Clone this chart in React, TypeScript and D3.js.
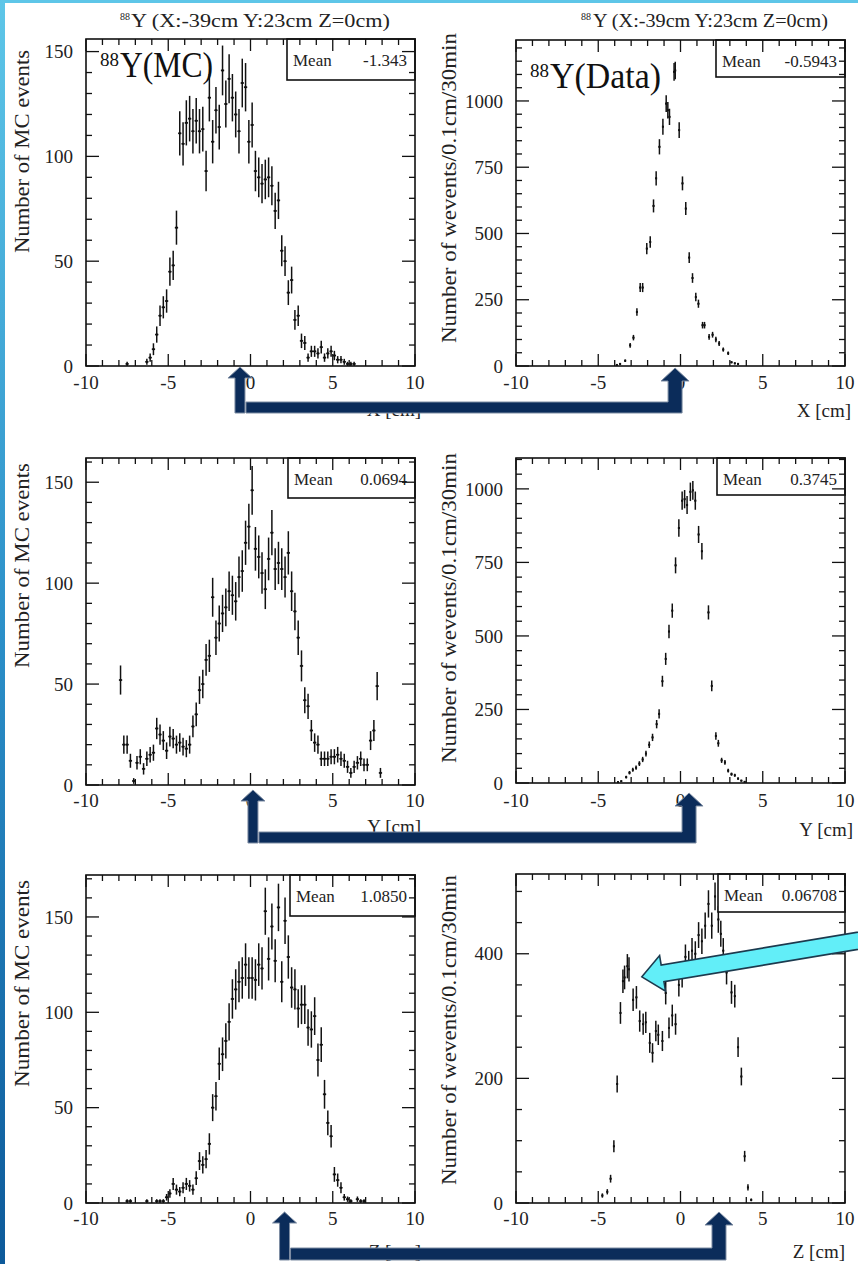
import { useEffect, useRef } from "react";
import * as d3 from "d3";

// MC histograms, 0.2 cm bins (first bin centre given)
const mcXStart = -7.5;
const mcXCounts = [1, 0, 0, 0, 0, 0, 2, 4, 8, 15, 24, 28, 31, 45, 48, 66, 111, 106, 116, 118, 112, 117, 112, 113, 93, 128, 107, 122, 114, 141, 125, 137, 128, 120, 112, 135, 133, 107, 115, 93, 90, 87, 89, 90, 86, 74, 79, 55, 50, 35, 41, 22, 24, 12, 11, 4, 7, 7, 6, 9, 4, 6, 7, 5, 3, 3, 2, 1, 1, 1];
const mcYStart = -7.9;
const mcYCounts = [52, 20, 20, 12, 2, 11, 14, 8, 13, 15, 16, 28, 25, 22, 17, 24, 23, 20, 21, 19, 18, 20, 29, 35, 47, 50, 62, 64, 93, 73, 80, 85, 88, 96, 94, 91, 103, 106, 120, 128, 146, 117, 113, 105, 97, 112, 125, 107, 110, 107, 103, 115, 96, 86, 73, 59, 42, 39, 27, 21, 20, 13, 13, 13, 14, 14, 15, 13, 12, 9, 6, 9, 11, 13, 10, 10, 22, 27, 49, 6];
const mcZStart = -7.5;
const mcZCounts = [1, 1, 0, 0, 0, 0, 1, 0, 0, 1, 1, 1, 3, 5, 10, 7, 6, 8, 10, 9, 7, 13, 22, 20, 23, 31, 50, 56, 73, 78, 85, 95, 107, 112, 116, 118, 125, 118, 118, 117, 125, 123, 153, 128, 145, 127, 155, 116, 148, 129, 113, 112, 102, 104, 104, 92, 91, 98, 75, 83, 57, 42, 35, 15, 12, 8, 3, 2, 1, 0, 2, 1, 1, 0];

// measured data (weighted events), [position cm, count]
const dataX: [number, number][] = [[-3.87, 4], [-3.67, 8], [-3.36, 20], [-3.06, 78], [-2.86, 107], [-2.65, 204], [-2.45, 296], [-2.3, 296], [-2.05, 443], [-1.84, 468], [-1.64, 604], [-1.48, 708], [-1.28, 827], [-1.07, 903], [-0.87, 990], [-0.77, 965], [-0.67, 940], [-0.39, 1110], [-0.32, 1115], [-0.08, 890], [0.12, 689], [0.32, 594], [0.53, 409], [0.73, 332], [0.93, 260], [1.09, 235], [1.34, 154], [1.46, 154], [1.74, 110], [1.95, 118], [2.15, 100], [2.35, 85], [2.6, 62], [2.9, 48], [3.1, 14], [3.3, 10], [3.5, 8]];
const dataY: [number, number][] = [[-3.8, 3], [-3.6, 6], [-3.3, 20], [-3.1, 35], [-2.9, 45], [-2.7, 52], [-2.5, 66], [-2.3, 80], [-2.1, 100], [-1.9, 130], [-1.7, 155], [-1.45, 200], [-1.3, 235], [-1.1, 346], [-0.9, 422], [-0.7, 515], [-0.5, 586], [-0.3, 740], [-0.1, 867], [0.1, 960], [0.25, 965], [0.4, 945], [0.6, 990], [0.75, 995], [0.9, 960], [1.1, 845], [1.3, 788], [1.7, 580], [1.9, 330], [2.15, 160], [2.3, 135], [2.5, 77], [2.7, 70], [2.9, 42], [3.1, 30], [3.3, 26], [3.5, 15], [3.7, 8], [3.9, 4]];
const dataZ: [number, number][] = [[-4.75, 12], [-4.45, 18], [-4.25, 39], [-4.05, 91], [-3.85, 191], [-3.65, 305], [-3.5, 356], [-3.4, 362], [-3.23, 380], [-3.13, 375], [-2.88, 326], [-2.68, 330], [-2.48, 292], [-2.27, 287], [-2.11, 290], [-1.87, 257], [-1.7, 241], [-1.5, 276], [-1.35, 270], [-1.1, 260], [-0.9, 337], [-0.7, 281], [-0.5, 301], [-0.3, 287], [-0.1, 350], [0.1, 365], [0.3, 395], [0.5, 385], [0.7, 405], [0.9, 400], [1.1, 430], [1.3, 420], [1.5, 445], [1.7, 480], [1.9, 445], [2.1, 492], [2.3, 455], [2.45, 432], [2.6, 405], [2.8, 370], [3.1, 338], [3.3, 332], [3.5, 250], [3.7, 203], [3.9, 75], [4.1, 25], [4.3, 5]];

const meanValues = ["-1.343", "-0.5943", "0.0694", "0.3745", "1.0850", "0.06708"];
const xTickValues = [-10, -5, 0, 5, 10];
const titleText = "Y (X:-39cm Y:23cm Z=0cm)";
const mcTitle = "Number of MC events";
const dataTitle = "Number of wevents/0.1cm/30min";
const axisNames = ["X [cm]", "Y [cm]", "Z [cm]"];
// arrow anchor positions (cm) in the MC / data panel of each row
const arrowAnchors = [[-0.64, -0.33], [0.15, 0.52], [2.07, 2.34]];
const cyanTip = [-2.35, 363];

const FONT = "'Liberation Serif', 'Times New Roman', serif";

const toBins = (start: number, counts: number[]): [number, number][] =>
  counts.map((c, i) => [start + 0.2 * i, c]);

const panels = [
  { f: [86, 39, 415, 366], yMax: 156, major: 50, minor: 10, pts: toBins(mcXStart, mcXCounts), bw: 0.2, yt: mcTitle, ytp: [29, 50, 203], xt: axisNames[0], xtp: [421, 416], lab: 389, box: [287, 39, 415, 80] },
  { f: [516, 40, 845, 366], yMax: 1230, major: 250, minor: 50, pts: dataX, bw: 0.1, yt: dataTitle, ytp: [456, 33, 310], xt: axisNames[0], xtp: [851, 417], lab: 389, box: [716, 40, 845, 77] },
  { f: [86, 458, 415, 785], yMax: 162, major: 50, minor: 10, pts: toBins(mcYStart, mcYCounts), bw: 0.2, yt: mcTitle, ytp: [29, 463, 205], xt: axisNames[1], xtp: [421, 833], lab: 807, box: [288, 458, 415, 498] },
  { f: [516, 458, 845, 783], yMax: 1105, major: 250, minor: 50, pts: dataY, bw: 0.1, yt: dataTitle, ytp: [456, 453, 310], xt: axisNames[1], xtp: [853, 836], lab: 807, box: [717, 458, 845, 495] },
  { f: [86, 875, 415, 1203], yMax: 172, major: 50, minor: 10, pts: toBins(mcZStart, mcZCounts), bw: 0.2, yt: mcTitle, ytp: [29, 880, 207], xt: axisNames[2], xtp: [421, 1258], lab: 1225, box: [290, 875, 415, 916] },
  { f: [516, 874, 845, 1203], yMax: 528, major: 200, minor: 50, pts: dataZ, bw: 0.1, yt: dataTitle, ytp: [456, 875, 310], xt: axisNames[2], xtp: [845, 1258], lab: 1225, box: [718, 874, 845, 912] },
];

const arrowRows = [
  { tipL: 367, tipR: 368, barTop: 402, barBot: 413 },
  { tipL: 790, tipR: 793, barTop: 832, barBot: 843 },
  { tipL: 1212, tipR: 1212, barTop: 1248, barBot: 1260 },
];

export default function App() {
  const ref = useRef<SVGSVGElement>(null);

  useEffect(() => {
    document.body.style.margin = "0";
    const svg = d3.select(ref.current);
    svg.selectAll("*").remove();

    const defs = svg.append("defs");
    const grad = defs.append("linearGradient").attr("id", "side").attr("x1", 0).attr("x2", 0).attr("y1", 0).attr("y2", 1);
    grad.append("stop").attr("offset", "0%").attr("stop-color", "#5ec6e8");
    grad.append("stop").attr("offset", "50%").attr("stop-color", "#2b8fc8");
    grad.append("stop").attr("offset", "100%").attr("stop-color", "#0d5a9a");

    svg.append("rect").attr("width", 858).attr("height", 1264).attr("fill", "#fff");
    svg.append("rect").attr("width", 858).attr("height", 3).attr("fill", "#5ec6e8");
    svg.append("rect").attr("width", 5).attr("height", 1264).attr("fill", "url(#side)");

    const scales: { x: d3.ScaleLinear<number, number>; y: d3.ScaleLinear<number, number> }[] = [];

    panels.forEach((p, i) => {
      const [x0, y0, x1, y1] = p.f;
      const x = d3.scaleLinear().domain([-10, 10]).range([x0, x1]);
      const y = d3.scaleLinear().domain([0, p.yMax]).range([y1, y0]);
      scales.push({ x, y });
      const g = svg.append("g");

      // points with error bars
      const pts = g.append("g").attr("stroke", "#111").attr("stroke-width", 1.5);
      p.pts.filter((d) => d[1] > 0).forEach(([cx, v]) => {
        const e = Math.sqrt(v);
        const top = Math.max(y(v + e), y0);
        const bot = Math.min(y(Math.max(v - e, 0)), y1);
        pts.append("line").attr("x1", x(cx)).attr("x2", x(cx)).attr("y1", top).attr("y2", bot);
        pts.append("line").attr("x1", x(cx - p.bw / 2)).attr("x2", x(cx + p.bw / 2)).attr("y1", y(v)).attr("y2", y(v));
        pts.append("rect").attr("x", x(cx) - 1).attr("y", y(v) - 1).attr("width", 2).attr("height", 2).attr("fill", "#111").attr("stroke", "none");
      });

      // stats box
      const [bx0, by0, bx1, by1] = p.box;
      g.append("rect").attr("x", bx0).attr("y", by0).attr("width", bx1 - bx0).attr("height", by1 - by0)
        .attr("fill", "#fff").attr("stroke", "#111").attr("stroke-width", 1.6);
      g.append("text").attr("x", bx0 + 6).attr("y", by0 + 27).attr("font-size", 17).attr("font-family", FONT).attr("fill", "#222").text("Mean");
      g.append("text").attr("x", bx1 - 8).attr("y", by0 + 27).attr("font-size", 17).attr("font-family", FONT).attr("fill", "#222")
        .attr("text-anchor", "end").text(meanValues[i]);

      // frame and ticks
      const tk = g.append("g").attr("stroke", "#111").attr("stroke-width", 1.3);
      d3.range(-10, 10.001, 1).forEach((v) => {
        const len = Math.abs(v) % 5 === 0 ? 12 : 6;
        tk.append("line").attr("x1", x(v)).attr("x2", x(v)).attr("y1", y1).attr("y2", y1 - len);
        tk.append("line").attr("x1", x(v)).attr("x2", x(v)).attr("y1", y0).attr("y2", y0 + len);
      });
      d3.range(0, p.yMax, p.minor).forEach((v) => {
        const len = v % p.major === 0 ? 13 : 6;
        tk.append("line").attr("x1", x0).attr("x2", x0 + len).attr("y1", y(v)).attr("y2", y(v));
        tk.append("line").attr("x1", x1).attr("x2", x1 - len).attr("y1", y(v)).attr("y2", y(v));
      });
      g.append("rect").attr("x", x0).attr("y", y0).attr("width", x1 - x0).attr("height", y1 - y0)
        .attr("fill", "none").attr("stroke", "#111").attr("stroke-width", 1.6);

      // tick labels (plain hyphen minus, as in the original)
      const lab = g.append("g").attr("font-family", FONT).attr("font-size", 19).attr("fill", "#222");
      xTickValues.forEach((v) => {
        lab.append("text").attr("x", x(v)).attr("y", p.lab).attr("text-anchor", "middle").text(String(v));
      });
      d3.range(0, p.yMax, p.major).forEach((v) => {
        lab.append("text").attr("x", x0 - 13).attr("y", y(v)).attr("dy", "0.35em").attr("text-anchor", "end").text(String(v));
      });

      // axis titles
      const [tx, tTop, tLen] = p.ytp;
      g.append("text").attr("transform", `translate(${tx},${tTop + tLen}) rotate(-90)`)
        .attr("font-family", FONT).attr("font-size", 20).attr("fill", "#222")
        .attr("textLength", tLen).attr("lengthAdjust", "spacingAndGlyphs").text(p.yt);
      g.append("text").attr("x", p.xtp[0]).attr("y", p.xtp[1]).attr("text-anchor", "end")
        .attr("font-family", FONT).attr("font-size", 19).attr("fill", "#222").text(p.xt);
    });

    // run titles
    const titles = [[120, 131, 259], [581, 593, 235]];
    titles.forEach(([sx, mx, len]) => {
      svg.append("text").attr("x", sx).attr("y", 20).attr("font-family", FONT).attr("font-size", 10).attr("fill", "#222").text("88");
      svg.append("text").attr("x", mx).attr("y", 27).attr("font-family", FONT).attr("font-size", 18).attr("fill", "#222")
        .attr("textLength", len).attr("lengthAdjust", "spacingAndGlyphs").text(titleText);
    });

    // big source labels
    const big = [["Y(MC)", 100, 120, 66, 77, 93], ["Y(Data)", 530, 550, 77, 88, 111]] as const;
    big.forEach(([t, sx, mx, sy, my, len]) => {
      svg.append("text").attr("x", sx).attr("y", sy).attr("font-family", FONT).attr("font-size", 19).attr("fill", "#111").text("88");
      svg.append("text").attr("x", mx).attr("y", my).attr("font-family", FONT).attr("font-size", 35).attr("fill", "#111")
        .attr("textLength", len).attr("lengthAdjust", "spacingAndGlyphs").text(t);
    });

    // navy arrows from MC to data
    const navy = "#0b2c5a";
    arrowRows.forEach((r, i) => {
      const xl = scales[2 * i].x(arrowAnchors[i][0]);
      const xr = scales[2 * i + 1].x(arrowAnchors[i][1]);
      const left = [[xl - 5, r.barBot], [xl - 5, r.tipL + 11], [xl - 12, r.tipL + 11], [xl, r.tipL], [xl + 12, r.tipL + 11], [xl + 5, r.tipL + 11], [xl + 5, r.barBot]];
      const right = [[xl + 6, r.barBot], [xl + 6, r.barTop], [xr - 7, r.barTop], [xr - 7, r.tipR + 13], [xr - 14, r.tipR + 13], [xr, r.tipR], [xr + 14, r.tipR + 13], [xr + 7, r.tipR + 13], [xr + 7, r.barBot]];
      [left, right].forEach((poly) => {
        svg.append("polygon").attr("points", poly.map((q) => q.join(",")).join(" "))
          .attr("fill", navy).attr("stroke", "#7d8ca2").attr("stroke-width", 1);
      });
    });

    // cyan arrow in Z data panel
    const s = scales[5];
    const tip = [s.x(cyanTip[0]), s.y(cyanTip[1])];
    const ang = Math.atan2(-36, 216);
    const u = [Math.cos(ang), Math.sin(ang)];
    const n = [-u[1], u[0]];
    const at = (a: number, b: number) => [tip[0] + a * u[0] + b * n[0], tip[1] + a * u[1] + b * n[1]];
    const cyan = [tip, at(21, 18), at(21, 8.5), at(240, 8.5), at(240, -8.5), at(21, -8.5), at(21, -18)];
    svg.append("polygon").attr("points", cyan.map((q) => q.join(",")).join(" "))
      .attr("fill", "#62eef8").attr("stroke", "#1c3a4e").attr("stroke-width", 1.6);
  }, []);

  return <svg ref={ref} width={858} height={1264} style={{ display: "block" }} />;
}
